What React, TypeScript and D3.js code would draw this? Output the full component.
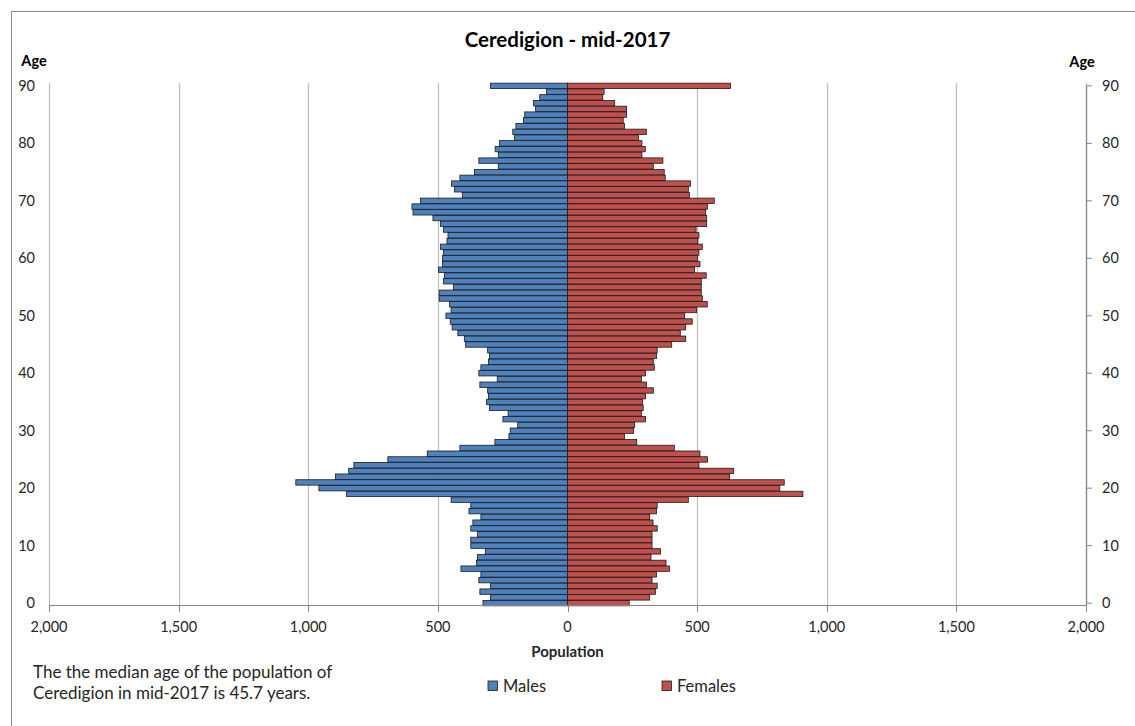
import React from "react";
import * as d3 from "d3";

// Single-year ages 0..90 (90 = 90+)
const ages: number[] = d3.range(0, 91);

// Male population by age (index = age)
const males: number[] = [
  326, 297, 338, 297, 342, 334, 411, 351, 347, 317,
  373, 373, 347, 373, 365, 334, 380, 373, 449, 852,
  959, 1048, 895, 844, 824, 693, 541, 415, 280, 226,
  221, 192, 249, 229, 301, 312, 305, 308, 338, 271,
  342, 334, 305, 301, 308, 393, 398, 423, 445, 452,
  469, 449, 455, 495, 495, 440, 478, 474, 497, 482,
  482, 478, 490, 465, 461, 478, 490, 519, 596, 600,
  567, 406, 436, 447, 415, 359, 267, 342, 267, 279,
  262, 204, 211, 199, 170, 165, 123, 131, 107, 81,
  297,
];

// Female population by age (index = age)
const females: number[] = [
  238, 317, 339, 346, 326, 343, 393, 380, 322, 359,
  326, 326, 326, 346, 330, 317, 343, 346, 466, 908,
  819, 836, 625, 641, 507, 540, 511, 412, 267, 220,
  255, 259, 301, 285, 292, 289, 301, 331, 305, 285,
  301, 335, 331, 343, 346, 402, 456, 435, 456, 481,
  452, 498, 539, 520, 516, 516, 516, 535, 490, 511,
  502, 507, 520, 503, 507, 496, 537, 537, 533, 540,
  566, 470, 466, 474, 377, 373, 331, 368, 287, 300,
  287, 274, 304, 220, 215, 228, 228, 182, 136, 141,
  629,
];

const popTicks: number[] = [-2000, -1500, -1000, -500, 0, 500, 1000, 1500, 2000];
const ageTicks: number[] = [0, 10, 20, 30, 40, 50, 60, 70, 80, 90];

const seriesNames = ["Males", "Females"];
const seriesColors = ["#4f81bd", "#c0504d"];

const title = "Ceredigion - mid-2017";
const noteLines = [
  "The the median age of the population of",
  "Ceredigion in mid-2017 is 45.7 years.",
];

const W = 1135;
const H = 726;
const FONT = "Lato, 'Open Sans', sans-serif";

export default function App() {
  const plotLeft = 49;
  const plotRight = 1086;
  const plotTop = 83;
  const plotBottom = 606;

  const x = d3.scaleLinear().domain([-2000, 2000]).range([plotLeft, plotRight]);
  const y = d3
    .scaleBand<number>()
    .domain([...ages].reverse())
    .range([plotTop, plotBottom])
    .paddingInner(0.06)
    .paddingOuter(0.03);
  const yc = (a: number) => (y(a) ?? 0) + y.bandwidth() / 2;
  const fmt = d3.format(",");

  return (
    <svg
      width={W}
      height={H}
      style={{ position: "fixed", left: 0, top: 0, background: "#fff" }}
      fontFamily={FONT}
    >
      <rect x={11.5} y={11.5} width={W + 20} height={H + 20} fill="#fff" stroke="#8c8c8c" />

      {/* title */}
      <text x={x(0)} y={47} textAnchor="middle" fontSize={20.5} fontWeight="bold" fill="#000">
        {title}
      </text>

      {/* vertical gridlines */}
      {popTicks.map((t) => (
        <line
          key={"g" + t}
          x1={Math.round(x(t)) + 0.5}
          x2={Math.round(x(t)) + 0.5}
          y1={plotTop}
          y2={plotBottom}
          stroke="#c0c0c0"
          strokeWidth={1.3}
        />
      ))}

      {/* bars */}
      {ages.map((a) => (
        <rect
          key={"m" + a}
          x={x(-males[a])}
          y={y(a)}
          width={x(0) - x(-males[a])}
          height={y.bandwidth()}
          fill={seriesColors[0]}
          stroke="#1a1a1a"
          strokeWidth={0.8}
        />
      ))}
      {ages.map((a) => (
        <rect
          key={"f" + a}
          x={x(0)}
          y={y(a)}
          width={x(females[a]) - x(0)}
          height={y.bandwidth()}
          fill={seriesColors[1]}
          stroke="#1a1a1a"
          strokeWidth={0.8}
        />
      ))}

      {/* x axis */}
      <line x1={plotLeft} x2={plotRight} y1={plotBottom - 0.5} y2={plotBottom - 0.5} stroke="#868686" strokeWidth={1.2} />
      {popTicks.map((t) => (
        <g key={"xt" + t}>
          <line
            x1={Math.round(x(t)) + 0.5}
            x2={Math.round(x(t)) + 0.5}
            y1={plotBottom}
            y2={plotBottom + 6}
            stroke="#868686"
          />
          <text x={x(t)} y={632} textAnchor="middle" fontSize={14.5} fill="#262626">
            {fmt(Math.abs(t))}
          </text>
        </g>
      ))}
      <text x={x(0)} y={657} textAnchor="middle" fontSize={15} fontWeight="bold" fill="#262626">
        Population
      </text>

      {/* left age labels */}
      <text x={34} y={66} textAnchor="middle" fontSize={14.5} fontWeight="bold" fill="#000">
        Age
      </text>
      {ageTicks.map((t) => (
        <text key={"la" + t} x={35} y={yc(t) + 5} textAnchor="end" fontSize={14.5} fill="#262626">
          {t}
        </text>
      ))}

      {/* right age axis */}
      <text x={1082} y={67} textAnchor="middle" fontSize={14.5} fontWeight="bold" fill="#000">
        Age
      </text>
      <line x1={plotRight + 0.5} x2={plotRight + 0.5} y1={yc(90)} y2={plotBottom} stroke="#868686" strokeWidth={1.2} />
      {ageTicks.map((t) => (
        <g key={"ra" + t}>
          <line x1={plotRight} x2={plotRight + 6} y1={yc(t)} y2={yc(t)} stroke="#868686" />
          <text x={1102} y={yc(t) + 5} fontSize={14.5} fill="#262626">
            {t}
          </text>
        </g>
      ))}

      {/* note */}
      {noteLines.map((l, i) => (
        <text key={"n" + i} x={33} y={678 + i * 21} fontSize={17} fill="#262626">
          {l}
        </text>
      ))}

      {/* legend */}
      {seriesNames.map((s, i) => {
        const lx = i === 0 ? 488 : 662;
        return (
          <g key={"lg" + s}>
            <rect x={lx} y={681} width={9.5} height={9.5} fill={seriesColors[i]} stroke="#1a1a1a" strokeWidth={0.8} />
            <text x={lx + 15} y={692} fontSize={16.5} fill="#262626">
              {s}
            </text>
          </g>
        );
      })}
    </svg>
  );
}
